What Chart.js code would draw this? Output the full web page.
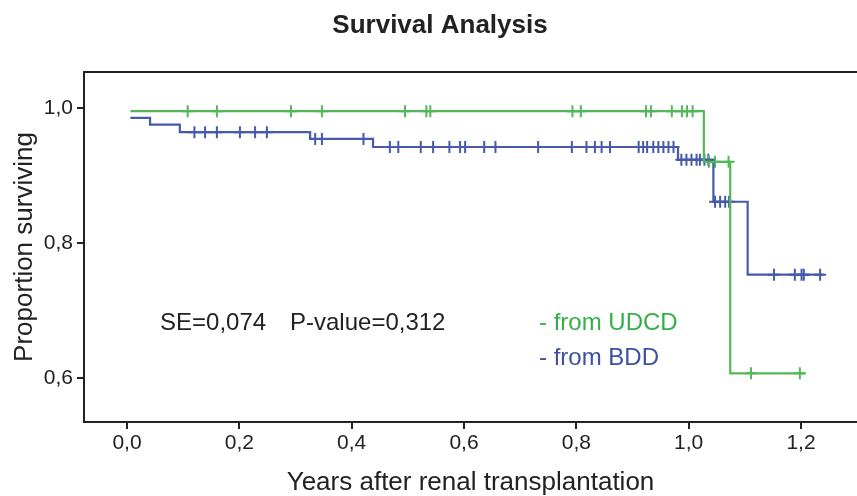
<!DOCTYPE html>
<html>
<head>
<meta charset="utf-8">
<title>Survival Analysis</title>
<script src="https://cdn.jsdelivr.net/npm/chart.js@4.4.1/dist/chart.umd.min.js"></script>
<style>
    html, body { margin: 0; padding: 0; background: #ffffff; }
    #wrap { width: 857px; height: 496px; }
</style>
</head>
<body>
<div id="wrap"><canvas id="survival-chart" width="857" height="496"></canvas></div>
<script>
// Kaplan-Meier steps: time of each step and the survival level after it
var udcdTimes = [0.006, 1.027, 1.074, 1.207];
var udcdLevels = [0.995, 0.920, 0.607, 0.607];
var bddTimes = [0.006, 0.041, 0.094, 0.326, 0.438, 0.981, 1.044, 1.105, 1.240];
var bddLevels = [0.985, 0.975, 0.964, 0.954, 0.942, 0.923, 0.861, 0.753, 0.753];

// censored cases
var udcdCensored = [0.108, 0.160, 0.292, 0.347, 0.495, 0.533, 0.540, 0.793, 0.808,
    0.924, 0.933, 0.970, 0.988, 0.997, 1.007, 1.036, 1.047, 1.071, 1.111, 1.198];
var bddCensored = [0.120, 0.139, 0.160, 0.201, 0.228, 0.249,
    0.335, 0.347, 0.421,
    0.468, 0.483, 0.523, 0.545, 0.574, 0.593, 0.602, 0.636, 0.656, 0.732, 0.792,
    0.818, 0.833, 0.845, 0.860, 0.911, 0.919, 0.926, 0.937, 0.946, 0.955, 0.964, 0.973,
    0.987, 0.996, 1.005, 1.014, 1.020, 1.028, 1.035,
    1.047, 1.056, 1.065, 1.072,
    1.152, 1.189, 1.201, 1.205, 1.234];

var xTickValues = [0, 0.2, 0.4, 0.6, 0.8, 1.0, 1.2];
var yTickValues = [0.6, 0.8, 1.0];

var greenLine = 'rgb(84,184,88)';
var blueLine = 'rgb(70,90,172)';
var greenText = 'rgb(52,176,74)';
var blueText = 'rgb(62,80,163)';
var darkText = '#222222';
var fontFamily = "'Liberation Sans', Arial, Helvetica, sans-serif";

function stepPoints(times, levels) {
    var pts = [];
    for (var i = 0; i < times.length; i++) {
        pts.push({ x: times[i], y: levels[i] });
    }
    return pts;
}

// censor marks sit on the curve, so look the level up from the steps
function censorPoints(censored, times, levels) {
    return censored.map(function(t) {
        var level = levels[0];
        for (var i = 0; i < times.length; i++) {
            if (times[i] <= t) level = levels[i];
        }
        return { x: t, y: level };
    });
}

function formatComma(v) {
    return v.toFixed(1).replace('.', ',');
}

var textPlugin = {
    id: 'survivalText',
    afterDraw: function(chart) {
        var ctx = chart.ctx;
        var area = chart.chartArea;
        ctx.save();

        // top frame line
        ctx.strokeStyle = darkText;
        ctx.lineWidth = 2;
        ctx.beginPath();
        ctx.moveTo(area.left - 1, area.top);
        ctx.lineTo(chart.width, area.top);
        ctx.stroke();

        ctx.textBaseline = 'middle';
        ctx.textAlign = 'center';
        ctx.fillStyle = darkText;
        ctx.font = 'bold 26px ' + fontFamily;
        ctx.fillText('Survival Analysis', 440, 26);

        ctx.textAlign = 'left';
        ctx.font = '24px ' + fontFamily;
        ctx.fillText('SE=0,074', 160, 323);
        ctx.fillText('P-value=0,312', 290, 323);

        ctx.fillStyle = greenText;
        ctx.fillText('- from UDCD', 539, 323);
        ctx.fillStyle = blueText;
        ctx.fillText('- from BDD', 539, 358);
        ctx.restore();
    }
};

var config = {
    type: 'line',
    data: {
        datasets: [
            {
                label: 'from UDCD',
                data: stepPoints(udcdTimes, udcdLevels),
                borderColor: greenLine,
                borderWidth: 2.2,
                stepped: 'before',
                pointRadius: 0,
                fill: false
            },
            {
                label: 'from BDD',
                data: stepPoints(bddTimes, bddLevels),
                borderColor: blueLine,
                borderWidth: 2.2,
                stepped: 'before',
                pointRadius: 0,
                fill: false
            },
            {
                label: 'UDCD censored',
                data: censorPoints(udcdCensored, udcdTimes, udcdLevels),
                showLine: false,
                pointStyle: 'cross',
                pointRadius: 6,
                pointBorderWidth: 2,
                borderColor: greenLine,
                backgroundColor: greenLine
            },
            {
                label: 'BDD censored',
                data: censorPoints(bddCensored, bddTimes, bddLevels),
                showLine: false,
                pointStyle: 'cross',
                pointRadius: 6,
                pointBorderWidth: 2,
                borderColor: blueLine,
                backgroundColor: blueLine
            }
        ]
    },
    options: {
        responsive: false,
        devicePixelRatio: 1,
        animation: false,
        layout: {
            autoPadding: false,
            padding: { top: 72, right: 0, bottom: 0, left: 0 }
        },
        plugins: {
            legend: { display: false },
            tooltip: { enabled: false },
            title: { display: false }
        },
        scales: {
            x: {
                type: 'linear',
                min: -0.0766,
                max: 1.2997,
                afterBuildTicks: function(axis) {
                    axis.ticks = xTickValues.map(function(v) { return { value: v }; });
                },
                afterFit: function(axis) {
                    axis.height = 74;
                },
                ticks: {
                    color: darkText,
                    padding: 2,
                    maxRotation: 0,
                    font: { family: fontFamily, size: 21 },
                    callback: function(value) { return formatComma(value); }
                },
                grid: {
                    drawOnChartArea: false,
                    drawTicks: true,
                    tickLength: 7,
                    color: darkText,
                    lineWidth: 2
                },
                border: { display: true, color: darkText, width: 2 },
                title: {
                    display: true,
                    text: 'Years after renal transplantation',
                    color: darkText,
                    padding: { top: 0, bottom: 0 },
                    font: { family: fontFamily, size: 26, lineHeight: 1.0 }
                }
            },
            y: {
                type: 'linear',
                min: 0.535,
                max: 1.053,
                afterBuildTicks: function(axis) {
                    axis.ticks = yTickValues.map(function(v) { return { value: v }; });
                },
                afterFit: function(axis) {
                    axis.width = 84;
                },
                ticks: {
                    color: darkText,
                    padding: 4,
                    font: { family: fontFamily, size: 21 },
                    callback: function(value) { return formatComma(value); }
                },
                grid: {
                    drawOnChartArea: false,
                    drawTicks: true,
                    tickLength: 7,
                    color: darkText,
                    lineWidth: 2
                },
                border: { display: true, color: darkText, width: 2 },
                title: {
                    display: true,
                    text: 'Proportion surviving',
                    color: darkText,
                    padding: { top: 12, bottom: 0 },
                    font: { family: fontFamily, size: 26, lineHeight: 1.0 }
                }
            }
        }
    },
    plugins: [textPlugin]
};

new Chart(document.getElementById('survival-chart'), config);
</script>
</body>
</html>
